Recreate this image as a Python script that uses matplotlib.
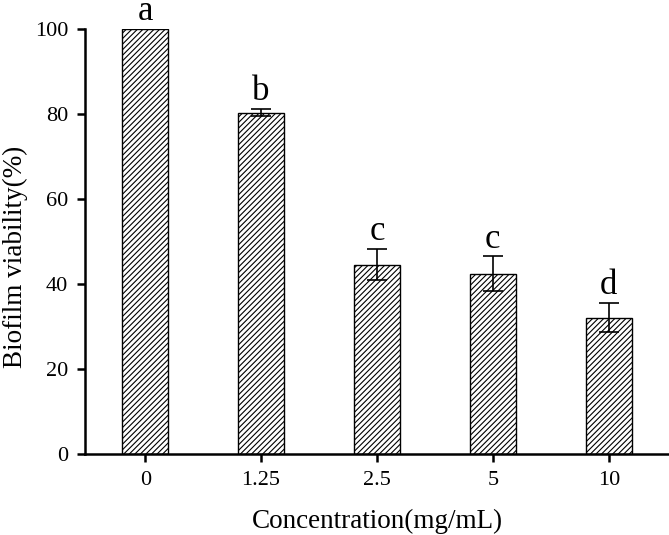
import matplotlib.pyplot as plt

plt.rcParams['font.family'] = ['Liberation Serif', 'DejaVu Serif']
plt.rcParams['hatch.linewidth'] = 0.8

# data
concentrations = ['0', '1.25', '2.5', '5', '10']
viability = [100.0, 80.3, 44.6, 42.4, 32.1]
errors = [0.0, 0.8, 3.7, 4.1, 3.4]
letters = ['a', 'b', 'c', 'c', 'd']

fig = plt.figure(figsize=(6.69, 5.35), dpi=100)
ax = fig.add_axes([0.127, 0.151, 0.873, 0.795])

x = range(len(concentrations))
ax.bar(x, viability, width=0.4, color='white', edgecolor='black',
       hatch='//////', linewidth=1.0)
ax.errorbar(x, viability, yerr=errors, fmt='none', ecolor='black',
            elinewidth=1.2, capsize=7.5, capthick=1.2)

for i, (v, e, t) in enumerate(zip(viability, errors, letters)):
    ax.text(i, v + e + 2.1, t, ha='center', va='baseline', fontsize=25,
            clip_on=False)

ax.set_xlim(-0.52, 4.52)
ax.set_ylim(0, 100)
ax.set_xticks(list(x))
ax.set_xticklabels(concentrations)
ax.set_yticks(range(0, 101, 20))

for side in ['top', 'right']:
    ax.spines[side].set_visible(False)
for side in ['left', 'bottom']:
    ax.spines[side].set_linewidth(1.8)
ax.tick_params(direction='out', length=6, width=1.8, labelsize=16, pad=6)

ax.set_xlabel('Concentration(mg/mL)', fontsize=19.5, labelpad=14)
fig.text(15 / 669, 1 - 257 / 535, 'Biofilm viability(%)', fontsize=19.5,
         rotation=90, ha='center', va='center')

fig.savefig('out.png', dpi=100)
